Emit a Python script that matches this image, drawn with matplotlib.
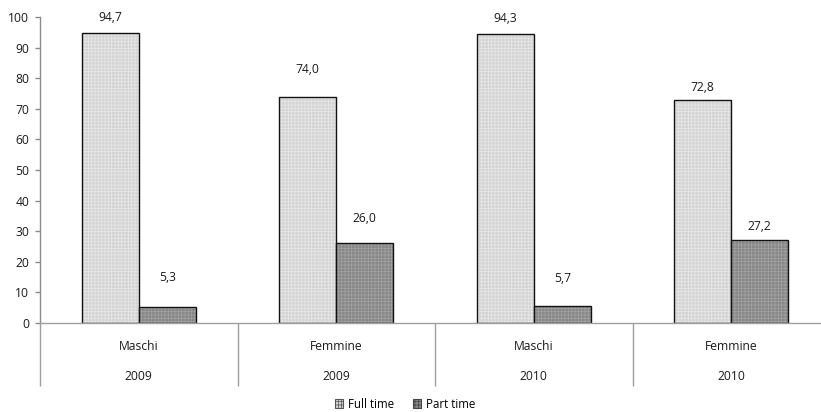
import numpy as np
import matplotlib
matplotlib.use("Agg")
import matplotlib.pyplot as plt
from matplotlib.patches import Patch

plt.rcParams['font.family'] = ['Open Sans', 'DejaVu Sans']
plt.rcParams['hatch.linewidth'] = 0.5

# --- dati ---
generi = ['Maschi', 'Femmine', 'Maschi', 'Femmine']
anni = ['2009', '2009', '2010', '2010']
full_time = [94.7, 74.0, 94.3, 72.8]
part_time = [5.3, 26.0, 5.7, 27.2]

# distanza (px) tra cima della barra e centro dell'etichetta
pad_full = [16, 27, 16, 13]
pad_part = [29, 25, 27, 13]

W, H = 821, 412
fig = plt.figure(figsize=(W / 100, H / 100), dpi=100)
ax = fig.add_axes([40 / W, (H - 323) / H, 790 / W, 306 / H])

x = np.arange(len(generi))
bw = 0.289
grigio = '#8c8c8c'

def barre(pos, vals, fc, hc):
    # riempimento a trama, poi contorno nero
    ax.bar(pos, vals, bw, facecolor=fc, edgecolor=hc, hatch='+++++', linewidth=0)
    return ax.bar(pos, vals, bw, fill=False, edgecolor='#111111', linewidth=1.0)

b1 = barre(x - bw / 2, full_time, '#d4d4d4', '#e8e8e8')
b2 = barre(x + bw / 2, part_time, '#888888', '#a2a2a2')

def fmt(v):
    return f"{v:.1f}".replace('.', ',')

for bars, vals, pads in [(b1, full_time, pad_full), (b2, part_time, pad_part)]:
    for r, v, p in zip(bars, vals, pads):
        ax.annotate(fmt(v), (r.get_x() + r.get_width() / 2, v),
                    xytext=(0, p * 0.72), textcoords='offset points',
                    ha='center', va='center', fontsize=8.7, color='#1a1a1a')

ax.set_xlim(-0.5, 3.5)
ax.set_ylim(0, 100)
ax.set_yticks(np.arange(0, 101, 10))
ax.tick_params(axis='y', direction='out', length=3.6, width=1, color=grigio,
               pad=4, labelsize=8.7, labelcolor='#1a1a1a')

# separatori tra le categorie sotto l'asse
ax.set_xticks([])
ax.set_xticks(np.arange(-0.5, 4.0, 1.0), minor=True)
ax.tick_params(axis='x', which='minor', direction='out', length=45.5,
               width=1, color='#a0a0a0', labelbottom=False)

for i, (g, a) in enumerate(zip(generi, anni)):
    ax.annotate(g, (i, 0), xycoords=('data', 'axes fraction'),
                xytext=(0, -24 * 0.72), textcoords='offset points',
                ha='center', va='center', fontsize=8.7, color='#1a1a1a')
    ax.annotate(a, (i, 0), xycoords=('data', 'axes fraction'),
                xytext=(0, -54 * 0.72), textcoords='offset points',
                ha='center', va='center', fontsize=8.7, color='#1a1a1a')

for s in ['top', 'right']:
    ax.spines[s].set_visible(False)
ax.spines['left'].set_color(grigio)
ax.spines['bottom'].set_color('#a0a0a0')
ax.spines['left'].set_linewidth(1)
ax.spines['bottom'].set_linewidth(1)

handles = [Patch(facecolor='#d4d4d4', edgecolor='#555555', hatch='+++++', linewidth=0.8),
           Patch(facecolor='#888888', edgecolor='#444444', hatch='+++++', linewidth=0.8)]
fig.legend(handles, ['Full time', 'Part time'], loc='center', ncol=2,
           bbox_to_anchor=(405 / W, 1 - 404 / H), frameon=False,
           fontsize=8.3, handlelength=0.75, handleheight=0.75,
           handletextpad=0.4, columnspacing=1.6)

fig.savefig('out.png', dpi=100)
